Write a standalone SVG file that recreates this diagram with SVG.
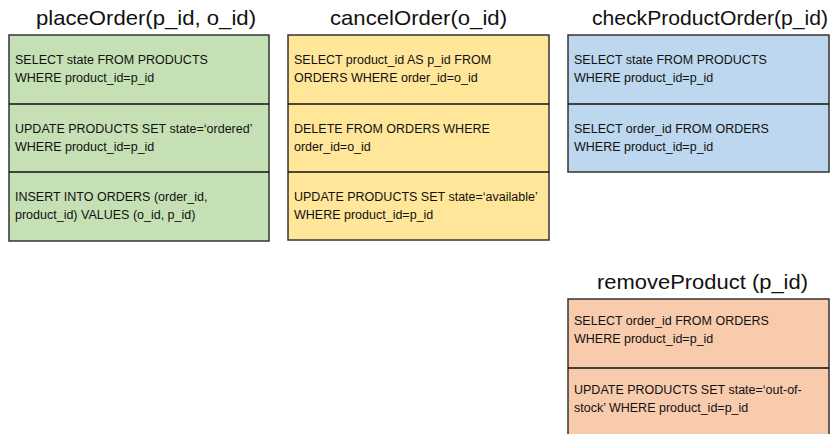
<svg xmlns="http://www.w3.org/2000/svg" width="832" height="434" viewBox="0 0 832 434">
<style>
.box{stroke:#333;stroke-width:1.5}
.div{stroke:#111;stroke-width:1.3}
.t{font-family:"Liberation Sans",Arial,sans-serif;font-size:21px;fill:#111}
.s{font-family:"Liberation Sans",Arial,sans-serif;font-size:12.5px;fill:#111}
</style>
<rect width="832" height="434" fill="#fff"/>
<g id="placeOrder">
<text class="t" x="36" y="25" textLength="220" lengthAdjust="spacingAndGlyphs">placeOrder(p_id, o_id)</text>
<rect class="box" x="9" y="35" width="260" height="206" fill="#C5E0B4"/>
<line class="div" x1="9" y1="104" x2="269" y2="104"/>
<line class="div" x1="9" y1="172" x2="269" y2="172"/>
<text class="s" x="15" y="64">SELECT state FROM PRODUCTS</text>
<text class="s" x="15" y="82">WHERE product_id=p_id</text>
<text class="s" x="15" y="133">UPDATE PRODUCTS SET state=‘ordered’</text>
<text class="s" x="15" y="151">WHERE product_id=p_id</text>
<text class="s" x="15" y="201">INSERT INTO ORDERS (order_id,</text>
<text class="s" x="15" y="219">product_id) VALUES (o_id, p_id)</text>
</g>
<g id="cancelOrder">
<text class="t" x="330" y="25" textLength="177" lengthAdjust="spacingAndGlyphs">cancelOrder(o_id)</text>
<rect class="box" x="288" y="35" width="261" height="205" fill="#FFE699"/>
<line class="div" x1="288" y1="104" x2="549" y2="104"/>
<line class="div" x1="288" y1="172" x2="549" y2="172"/>
<text class="s" x="294" y="64">SELECT product_id AS p_id FROM</text>
<text class="s" x="294" y="82">ORDERS WHERE order_id=o_id</text>
<text class="s" x="294" y="133">DELETE FROM ORDERS WHERE</text>
<text class="s" x="294" y="151">order_id=o_id</text>
<text class="s" x="294" y="201">UPDATE PRODUCTS SET state=‘available’</text>
<text class="s" x="294" y="219">WHERE product_id=p_id</text>
</g>
<g id="checkProductOrder">
<text class="t" x="592" y="25" textLength="236" lengthAdjust="spacingAndGlyphs">checkProductOrder(p_id)</text>
<rect class="box" x="568" y="35" width="261" height="137" fill="#BDD7EE"/>
<line class="div" x1="568" y1="104" x2="829" y2="104"/>
<text class="s" x="574" y="64">SELECT state FROM PRODUCTS</text>
<text class="s" x="574" y="82">WHERE product_id=p_id</text>
<text class="s" x="574" y="133">SELECT order_id FROM ORDERS</text>
<text class="s" x="574" y="151">WHERE product_id=p_id</text>
</g>
<g id="removeProduct">
<text class="t" x="597" y="289" textLength="211" lengthAdjust="spacingAndGlyphs">removeProduct (p_id)</text>
<path class="box" d="M568 436 V299 H829 V436" fill="#F8CBAD"/>
<line class="div" x1="568" y1="368" x2="829" y2="368"/>
<text class="s" x="574" y="325">SELECT order_id FROM ORDERS</text>
<text class="s" x="574" y="343">WHERE product_id=p_id</text>
<text class="s" x="574" y="394">UPDATE PRODUCTS SET state=‘out-of-</text>
<text class="s" x="574" y="412">stock’ WHERE product_id=p_id</text>
</g>
<g id="connectors"/>
</svg>
